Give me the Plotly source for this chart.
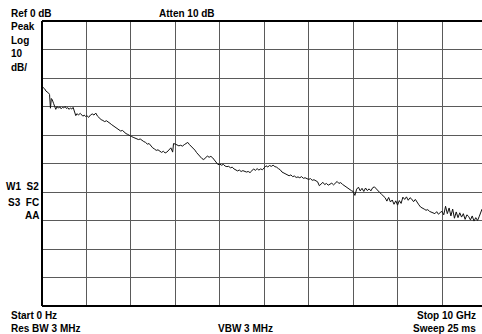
import plotly.graph_objects as go

freq_ghz = [0.00, 0.03, 0.06, 0.09, 0.12, 0.15, 0.17, 0.19, 0.21, 0.23, 0.26, 0.29, 0.31, 0.34, 0.37,
            0.40, 0.43, 0.46, 0.49, 0.52, 0.55, 0.58, 0.61, 0.64, 0.67, 0.70, 0.73, 0.76, 0.79, 0.82,
            0.86, 0.89, 0.92, 0.95, 0.98, 1.01, 1.05, 1.09, 1.13, 1.17, 1.21, 1.25, 1.29, 1.33, 1.37,
            1.41, 1.45, 1.49, 1.53, 1.57, 1.61, 1.65, 1.69, 1.73, 1.77, 1.81, 1.85, 1.89, 1.93, 1.97,
            2.01, 2.05, 2.09, 2.13, 2.17, 2.21, 2.25, 2.29, 2.33, 2.37, 2.41, 2.45, 2.49, 2.53, 2.57,
            2.61, 2.65, 2.69, 2.73, 2.77, 2.81, 2.85, 2.90, 2.94, 2.96, 3.00, 3.04, 3.08, 3.12, 3.16,
            3.20, 3.24, 3.28, 3.32, 3.36, 3.40, 3.44, 3.48, 3.52, 3.56, 3.60, 3.64, 3.68, 3.72, 3.76,
            3.80, 3.84, 3.88, 3.92, 3.96, 4.00, 4.04, 4.08, 4.12, 4.16, 4.20, 4.24, 4.28, 4.32, 4.36,
            4.40, 4.44, 4.48, 4.52, 4.56, 4.60, 4.64, 4.68, 4.72, 4.76, 4.80, 4.84, 4.88, 4.92, 4.96,
            5.00, 5.04, 5.08, 5.12, 5.16, 5.20, 5.24, 5.28, 5.32, 5.36, 5.40, 5.44, 5.48, 5.52, 5.56,
            5.60, 5.64, 5.68, 5.72, 5.76, 5.80, 5.84, 5.88, 5.92, 5.96, 6.00, 6.04, 6.08, 6.12, 6.16,
            6.20, 6.24, 6.28, 6.32, 6.36, 6.40, 6.44, 6.48, 6.52, 6.56, 6.60, 6.64, 6.68, 6.72, 6.76,
            6.80, 6.84, 6.88, 6.92, 6.96, 7.00, 7.04, 7.08, 7.12, 7.16, 7.20, 7.24, 7.28, 7.32, 7.36,
            7.40, 7.44, 7.48, 7.52, 7.56, 7.60, 7.64, 7.68, 7.72, 7.76, 7.80, 7.84, 7.88, 7.92, 7.96,
            8.00, 8.04, 8.08, 8.12, 8.16, 8.20, 8.24, 8.28, 8.32, 8.36, 8.40, 8.44, 8.48, 8.52, 8.56,
            8.60, 8.64, 8.68, 8.72, 8.76, 8.80, 8.84, 8.88, 8.92, 8.96, 9.00, 9.04, 9.08, 9.12, 9.16,
            9.20, 9.24, 9.28, 9.32, 9.36, 9.40, 9.44, 9.48, 9.52, 9.56, 9.60, 9.64, 9.68, 9.72, 9.76,
            9.80, 9.84, 9.88, 9.90]
level_db = [-23.0, -23.4, -23.8, -24.6, -24.9, -25.3, -25.8, -30.6, -27.2, -27.6, -28.9, -30.4, -31.0, -30.0, -30.6,
            -30.1, -30.8, -30.3, -30.5, -30.0, -30.7, -30.4, -31.0, -30.5, -30.9, -30.3, -32.0, -33.2, -32.5, -33.0,
            -32.4, -33.1, -33.4, -33.0, -33.5, -33.2, -33.8, -33.0, -32.6, -33.0, -32.3, -33.4, -34.2, -34.6, -34.9,
            -35.3, -35.0, -35.6, -35.9, -36.4, -36.9, -37.2, -37.9, -38.3, -38.6, -38.4, -39.0, -39.5, -39.8, -40.3,
            -40.5, -40.8, -41.0, -41.2, -41.6, -41.4, -42.0, -42.3, -42.6, -43.2, -43.0, -43.8, -44.5, -44.9, -45.4,
            -45.2, -45.8, -46.1, -45.7, -46.3, -46.0, -45.2, -44.5, -46.0, -43.0, -43.2, -43.5, -43.8, -43.6, -43.9,
            -43.4, -43.1, -42.6, -43.4, -44.0, -44.4, -45.3, -46.2, -47.0, -47.6, -48.3, -48.6, -47.8, -47.4, -47.8,
            -47.5, -48.0, -48.9, -49.6, -50.4, -50.2, -50.6, -50.3, -50.9, -51.1, -51.0, -51.5, -51.3, -51.9, -52.2,
            -52.6, -52.3, -52.8, -52.5, -52.9, -53.0, -52.8, -53.2, -52.6, -51.9, -52.4, -51.8, -52.3, -51.9, -52.2,
            -51.5, -50.8, -51.2, -50.7, -51.0, -50.6, -51.1, -51.3, -51.8, -52.2, -53.0, -53.4, -53.6, -53.9, -54.3,
            -54.0, -54.6, -54.4, -54.9, -54.7, -55.0, -54.6, -55.2, -55.0, -55.4, -55.6, -55.3, -55.9, -55.7, -56.1,
            -56.4, -57.8, -57.2, -56.6, -57.4, -57.0, -57.6, -57.2, -56.9, -57.5, -56.8, -56.3, -57.0, -56.7, -57.3,
            -57.8, -58.0, -58.6, -59.0, -59.5, -59.8, -61.2, -59.0, -58.3, -59.6, -58.7, -59.8, -58.6, -59.5, -58.9,
            -59.6, -58.5, -58.2, -59.0, -59.6, -60.2, -60.8, -61.4, -62.0, -63.2, -61.9, -63.5, -62.8, -64.3, -63.1,
            -64.6, -63.0, -64.0, -61.8, -62.6, -61.7, -62.9, -62.0, -62.5, -63.4, -62.6, -63.8, -64.5, -65.3, -65.8,
            -66.0, -66.4, -66.2, -66.8, -67.0, -67.3, -67.6, -66.9, -67.8, -67.2, -66.8, -68.0, -65.0, -67.6, -65.6,
            -68.4, -66.0, -69.2, -67.0, -69.0, -67.3, -68.8, -67.6, -69.6, -68.0, -68.6, -69.8, -68.4, -70.2, -69.0,
            -70.0, -68.5, -66.5, -66.0]

# Screen annotation texts
top_left_labels = ["Ref 0 dB", "Peak", "Log", "10", "dB/"]
atten_label = "Atten 10 dB"
left_status = ["W1\u00a0\u00a0S2", "S3\u00a0\u00a0FC", "AA"]
bottom_labels = ["Start 0 Hz", "Res BW 3 MHz", "VBW 3 MHz", "Stop 10 GHz", "Sweep 25 ms"]

FONT = "Liberation Sans, Arial, sans-serif"
W, H = 482, 334
L, T, B = 42, 21, 28
PW, PH = W - L, H - T - B


def px(x):
    return (x - L) / PW


def py(y):
    return (H - B - y) / PH


fig = go.Figure()
fig.add_trace(go.Scatter(x=freq_ghz, y=level_db, mode="lines",
                         line=dict(color="#111111", width=1), hoverinfo="skip"))

fig.update_xaxes(range=[0, 9.9], dtick=1, tick0=0, showgrid=True, gridcolor="#5a5a5a", gridwidth=1,
                 showticklabels=False, zeroline=False, showline=False, ticks="")
fig.update_yaxes(range=[-100, 0], dtick=10, tick0=0, showgrid=True, gridcolor="#5a5a5a", gridwidth=1,
                 showticklabels=False, zeroline=False, showline=False, ticks="")

shapes = [
    dict(type="line", xref="paper", yref="paper", x0=0, x1=0, y0=0, y1=1, line=dict(color="black", width=2)),
    dict(type="line", xref="paper", yref="paper", x0=0, x1=1, y0=1, y1=1, line=dict(color="black", width=2)),
    dict(type="line", xref="paper", yref="paper", x0=0, x1=1, y0=0, y1=0, line=dict(color="black", width=2)),
]

ann = []


def add(text, x, y, anchor):
    ann.append(dict(text="<b>" + text + "</b>", xref="paper", yref="paper", x=px(x), y=py(y),
                    xanchor=anchor, yanchor="middle", showarrow=False,
                    font=dict(family=FONT, size=10, color="black"), borderpad=0))


for t, yy in zip(top_left_labels, [13.5, 26, 40, 53.5, 67.5]):
    add(t, 10, yy, "left")
add(atten_label, 216, 13.5, "right")
for t, yy in zip(left_status, [186.5, 202, 215]):
    add(t, 39.5, yy, "right")
add(bottom_labels[0], 10, 315, "left")
add(bottom_labels[1], 10, 328.5, "left")
add(bottom_labels[2], 245, 328.5, "center")
add(bottom_labels[3], 477, 315, "right")
add(bottom_labels[4], 477, 328.5, "right")

fig.update_layout(width=W, height=H, margin=dict(l=L, r=0, t=T, b=B, pad=0),
                  paper_bgcolor="white", plot_bgcolor="white", showlegend=False,
                  shapes=shapes, annotations=ann)

fig.write_html("out.html", config={"displayModeBar": False, "staticPlot": True},
               post_script="document.body.style.margin='0';document.body.style.overflow='hidden';")
